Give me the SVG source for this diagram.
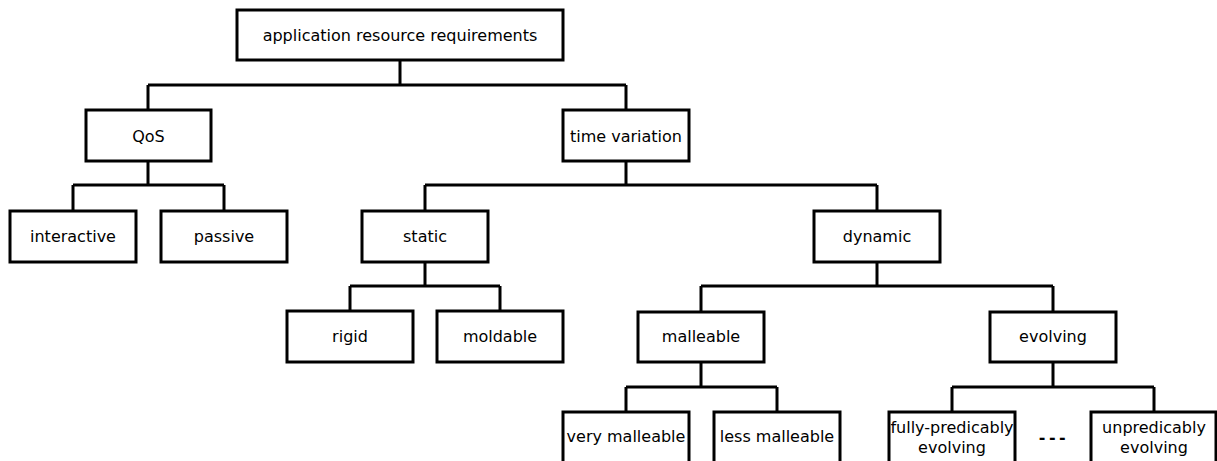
<svg xmlns="http://www.w3.org/2000/svg" width="1217" height="461" viewBox="0 0 1217 461">
<style>
rect.n{fill:#fff;stroke:#000;stroke-width:3}
text{font-family:"DejaVu Sans",sans-serif;font-size:16px;fill:#000;text-anchor:middle}
#connectors path{fill:none;stroke:#000;stroke-width:3}
</style>
<rect width="1217" height="461" fill="#fff"/>
<g id="connectors">
<path d="M400,60V85M148,85H626M148,85V110M626,85V110"/>
<path d="M148,161V185M73,185H224M73,185V211M224,185V211"/>
<path d="M626,161V185M425,185H877M425,185V211M877,185V211"/>
<path d="M425,262V286M350,286H500M350,286V311M500,286V311"/>
<path d="M877,262V286M701,286H1053M701,286V312M1053,286V312"/>
<path d="M701,362V387M626,387H777M626,387V412M777,387V412"/>
<path d="M1053,362V387M952,387H1154M952,387V412M1154,387V412"/>
</g>
<g id="root"><rect class="n" x="237" y="10" width="326" height="50"/><text x="400" y="41">application resource requirements</text></g>
<g id="qos"><rect class="n" x="86" y="110" width="125" height="51"/><text x="148.5" y="141.5">QoS</text></g>
<g id="timevariation"><rect class="n" x="563" y="110" width="126" height="51"/><text x="626" y="141.5">time variation</text></g>
<g id="interactive"><rect class="n" x="10" y="211" width="126" height="51"/><text x="73" y="242">interactive</text></g>
<g id="passive"><rect class="n" x="161" y="211" width="126" height="51"/><text x="224" y="242">passive</text></g>
<g id="static"><rect class="n" x="362" y="211" width="126" height="51"/><text x="425" y="242">static</text></g>
<g id="dynamic"><rect class="n" x="814" y="211" width="126" height="51"/><text x="877" y="242">dynamic</text></g>
<g id="rigid"><rect class="n" x="287" y="311" width="126" height="51"/><text x="350" y="342">rigid</text></g>
<g id="moldable"><rect class="n" x="437" y="311" width="126" height="51"/><text x="500" y="342">moldable</text></g>
<g id="malleable"><rect class="n" x="638" y="312" width="126" height="50"/><text x="701" y="342">malleable</text></g>
<g id="evolving"><rect class="n" x="990" y="312" width="126" height="50"/><text x="1053" y="342">evolving</text></g>
<g id="verymalleable"><rect class="n" x="563" y="412" width="126" height="60"/><text x="626" y="442">very malleable</text></g>
<g id="lessmalleable"><rect class="n" x="714" y="412" width="126" height="60"/><text x="777" y="442">less malleable</text></g>
<g id="fullypredicably"><rect class="n" x="889" y="412" width="126" height="60"/><text x="952" y="432.5">fully-predicably</text><text x="952" y="452.5">evolving</text></g>
<g id="ellipsis"><text x="1054" y="443" style="font-weight:bold;letter-spacing:3.5px">---</text></g>
<g id="unpredicably"><rect class="n" x="1091" y="412" width="125" height="60"/><text x="1154" y="432.5">unpredicably</text><text x="1154" y="452.5">evolving</text></g>
</svg>
